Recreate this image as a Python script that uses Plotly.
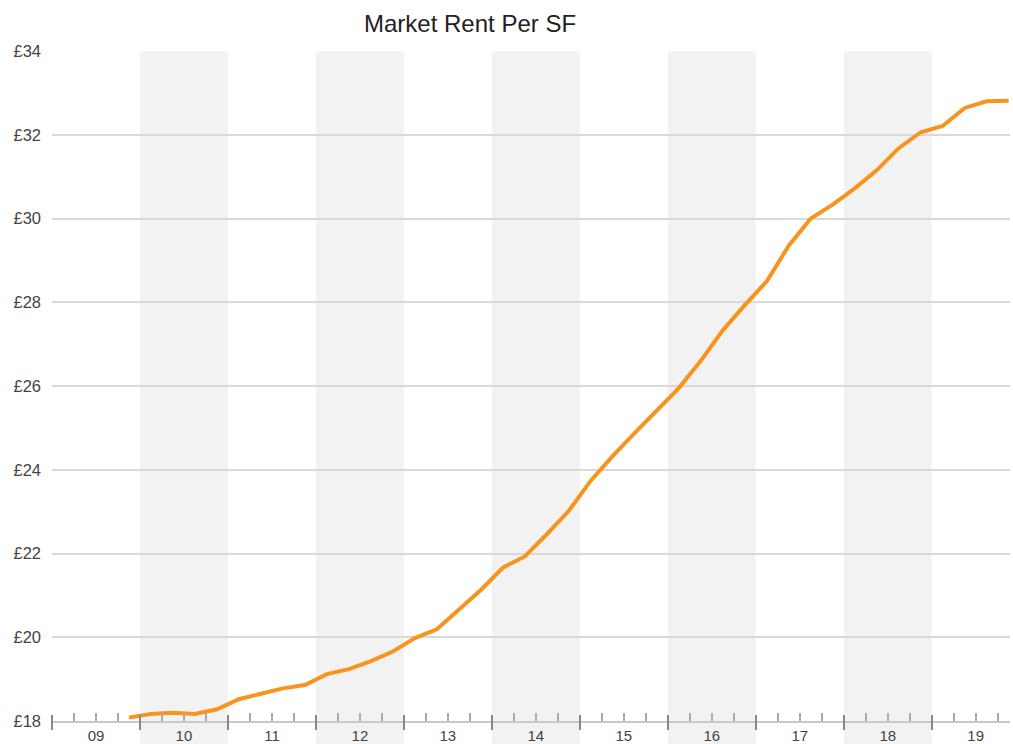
import plotly.graph_objects as go

# Quarterly market rent (£ per SF), 2009 Q4 .. 2019 Q4
start_year = 2009
start_quarter = 4
rent = [
    18.08,
    18.17, 18.20, 18.17, 18.28,
    18.52, 18.65, 18.78, 18.86,
    19.12, 19.24, 19.43, 19.66,
    19.98, 20.19, 20.65, 21.13,
    21.66, 21.93, 22.46, 23.02,
    23.74, 24.33, 24.88, 25.42,
    25.95, 26.60, 27.33, 27.93,
    28.50, 29.35, 30.00, 30.33,
    30.72, 31.15, 31.68, 32.06,
    32.21, 32.64, 32.80, 32.81,
]
years = list(range(2009, 2020))
year_labels = ["09", "10", "11", "12", "13", "14", "15", "16", "17", "18", "19"]
shaded_years = [2010, 2012, 2014, 2016, 2018]
y_ticks = [18, 20, 22, 24, 26, 28, 30, 32, 34]
y_labels = ["£%d" % v for v in y_ticks]

# x position: middle of each quarter, in fractional years
xq = []
y_, q_ = start_year, start_quarter
for _ in rent:
    xq.append(y_ + (q_ - 0.5) / 4)
    q_ += 1
    if q_ > 4:
        q_ = 1
        y_ += 1

x_range = [2009, 2019.89]
quarter_ticks = [y + q / 4 for y in years for q in range(4) if q != 0]
year_ticks = years
mid_ticks = [y + 0.5 for y in years]

fig = go.Figure()
fig.add_trace(go.Scatter(
    x=xq, y=rent, mode="lines",
    line=dict(color="#F7941D", width=4),
    hoverinfo="skip", showlegend=False,
))
# dummy traces to activate overlay axes
fig.add_trace(go.Scatter(x=[x_range[0]], y=[18], xaxis="x2", mode="markers",
                         marker=dict(opacity=0), showlegend=False, hoverinfo="skip"))
fig.add_trace(go.Scatter(x=[x_range[0]], y=[18], xaxis="x3", mode="markers",
                         marker=dict(opacity=0), showlegend=False, hoverinfo="skip"))

for yr in shaded_years:
    fig.add_shape(type="rect", xref="x", yref="paper",
                  x0=yr, x1=yr + 1, y0=-0.04, y1=1,
                  fillcolor="#F2F2F2", line_width=0, layer="below")

yaxis_font = dict(family="Liberation Sans, Arial, sans-serif", size=16.5, color="#444444")
xaxis_font = dict(family="Liberation Sans, Arial, sans-serif", size=15, color="#444444")

fig.update_layout(
    width=1013, height=744,
    margin=dict(l=52, r=3, t=51, b=23),
    paper_bgcolor="white", plot_bgcolor="rgba(0,0,0,0)",
    title=dict(text="Market Rent Per SF", x=0.464, xref="container", xanchor="center",
               y=0.968, yref="container", yanchor="middle",
               font=dict(family="Liberation Sans, Arial, sans-serif", size=24, color="#222222")),
    xaxis=dict(range=x_range, tickmode="array", tickvals=mid_ticks, ticktext=year_labels,
               ticks="", showgrid=False, zeroline=False, showline=True, automargin=False,
               linecolor="#C8C8C8", linewidth=1.5, tickfont=xaxis_font, ticklabelstandoff=0),
    xaxis2=dict(range=x_range, overlaying="x", anchor="free", position=0.0105,
                tickmode="array", tickvals=year_ticks, ticks="outside", ticklen=15,
                tickwidth=2, tickcolor="#888888", showticklabels=False, automargin=False,
                showgrid=False, zeroline=False, showline=False),
    xaxis3=dict(range=x_range, overlaying="x", anchor="y", side="bottom",
                tickmode="array", tickvals=quarter_ticks, ticks="inside", ticklen=8,
                tickwidth=1.5, tickcolor="#AAAAAA", showticklabels=False, automargin=False,
                showgrid=False, zeroline=False, showline=False),
    yaxis=dict(range=[18, 34], tickmode="array", tickvals=y_ticks, ticktext=y_labels,
               showgrid=True, gridcolor="#D9D9D9", gridwidth=1.5, zeroline=False,
               showline=False, ticks="", tickfont=yaxis_font, ticklabelstandoff=10,
               automargin=False),
)

fig.write_html("out.html")
